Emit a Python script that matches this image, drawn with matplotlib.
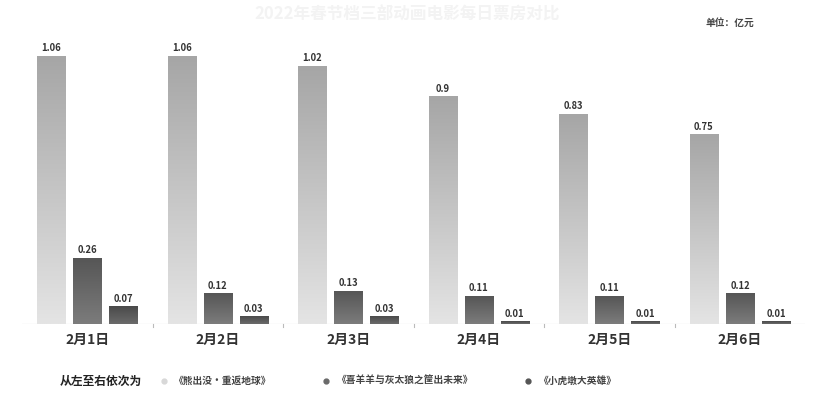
import numpy as np
import matplotlib.pyplot as plt
from matplotlib.lines import Line2D

plt.rcParams['font.family'] = ['Noto Sans CJK SC', 'DejaVu Sans']

# data (亿元)
days = ["2月1日", "2月2日", "2月3日", "2月4日", "2月5日", "2月6日"]
films = ["《熊出没·重返地球》", "《喜羊羊与灰太狼之筐出未来》", "《小虎墩大英雄》"]
xiongchumo = [1.06, 1.06, 1.02, 0.9, 0.83, 0.75]
xiyangyang = [0.26, 0.12, 0.13, 0.11, 0.11, 0.12]
xiaohudun = [0.07, 0.03, 0.03, 0.01, 0.01, 0.01]
labels = [["1.06", "1.06", "1.02", "0.9", "0.83", "0.75"],
          ["0.26", "0.12", "0.13", "0.11", "0.11", "0.12"],
          ["0.07", "0.03", "0.03", "0.01", "0.01", "0.01"]]

series = [xiongchumo, xiyangyang, xiaohudun]
# top colour, bottom colour of each gradient
grads = [("#a6a6a6", "#e4e4e4"), ("#565656", "#7c7c7c"), ("#4a4a4a", "#6a6a6a")]
legend_colors = ["#d8d8d8", "#6a6a6a", "#555555"]

fig = plt.figure(figsize=(8.15, 3.94), dpi=100)
ax = fig.add_axes([0.027, 0.177, 0.961, 0.77])

x = np.arange(len(days))
w = 0.215
step = 0.276


def hex2rgb(h):
    h = h.lstrip("#")
    return np.array([int(h[i:i + 2], 16) / 255 for i in (0, 2, 4)])


for k, vals in enumerate(series):
    top, bot = hex2rgb(grads[k][0]), hex2rgb(grads[k][1])
    t = np.linspace(0, 1, 100)[:, None]
    img = (top * (1 - t) + bot * t).reshape(100, 1, 3)
    for i, v in enumerate(vals):
        cx = x[i] + (k - 1) * step
        ax.imshow(img, extent=[cx - w / 2, cx + w / 2, 0, v], aspect="auto",
                  interpolation="bilinear", zorder=2)
        ax.text(cx, v + 0.012, labels[k][i], ha="center", va="bottom",
                fontsize=6.8, fontweight="bold", color="#333333", zorder=3)

ax.set_xlim(-0.5, len(days) - 0.5)
ax.set_ylim(0, 1.2)
ax.axhline(0, color="#bbbbbb", lw=0.8, zorder=1)
for b in np.arange(0.5, len(days) - 0.5, 1):
    ax.plot([b, b], [-0.01, 0], color="#bbbbbb", lw=0.8, clip_on=False)

ax.set_xticks(x)
ax.set_xticklabels(days, fontsize=10, fontweight="bold", color="#333333")
ax.tick_params(axis="x", length=0, pad=6)
ax.set_yticks([])
for s in ax.spines.values():
    s.set_visible(False)

fig.text(0.5, 0.985, "2022年春节档三部动画电影每日票房对比", ha="center", va="top",
         fontsize=12, fontweight="bold", color="#f3f3f3")
fig.text(0.925, 0.943, "单位：亿元", ha="right", va="center", fontsize=7,
         fontweight="bold", color="#444444")

fig.text(0.073, 0.033, "从左至右依次为", ha="left", va="center", fontsize=8.5,
         fontweight="bold", color="#222222")
handles = [Line2D([], [], marker="o", ls="none", markersize=3.5,
                  markerfacecolor=c, markeredgecolor=c) for c in legend_colors]
fig.legend(handles, films, loc="center left", bbox_to_anchor=(0.178, 0.033),
           ncol=3, frameon=False, handletextpad=0.1, columnspacing=4.6,
           prop={"size": 7, "weight": "bold"}, labelcolor="#444444")

fig.savefig("out.png", dpi=100)
